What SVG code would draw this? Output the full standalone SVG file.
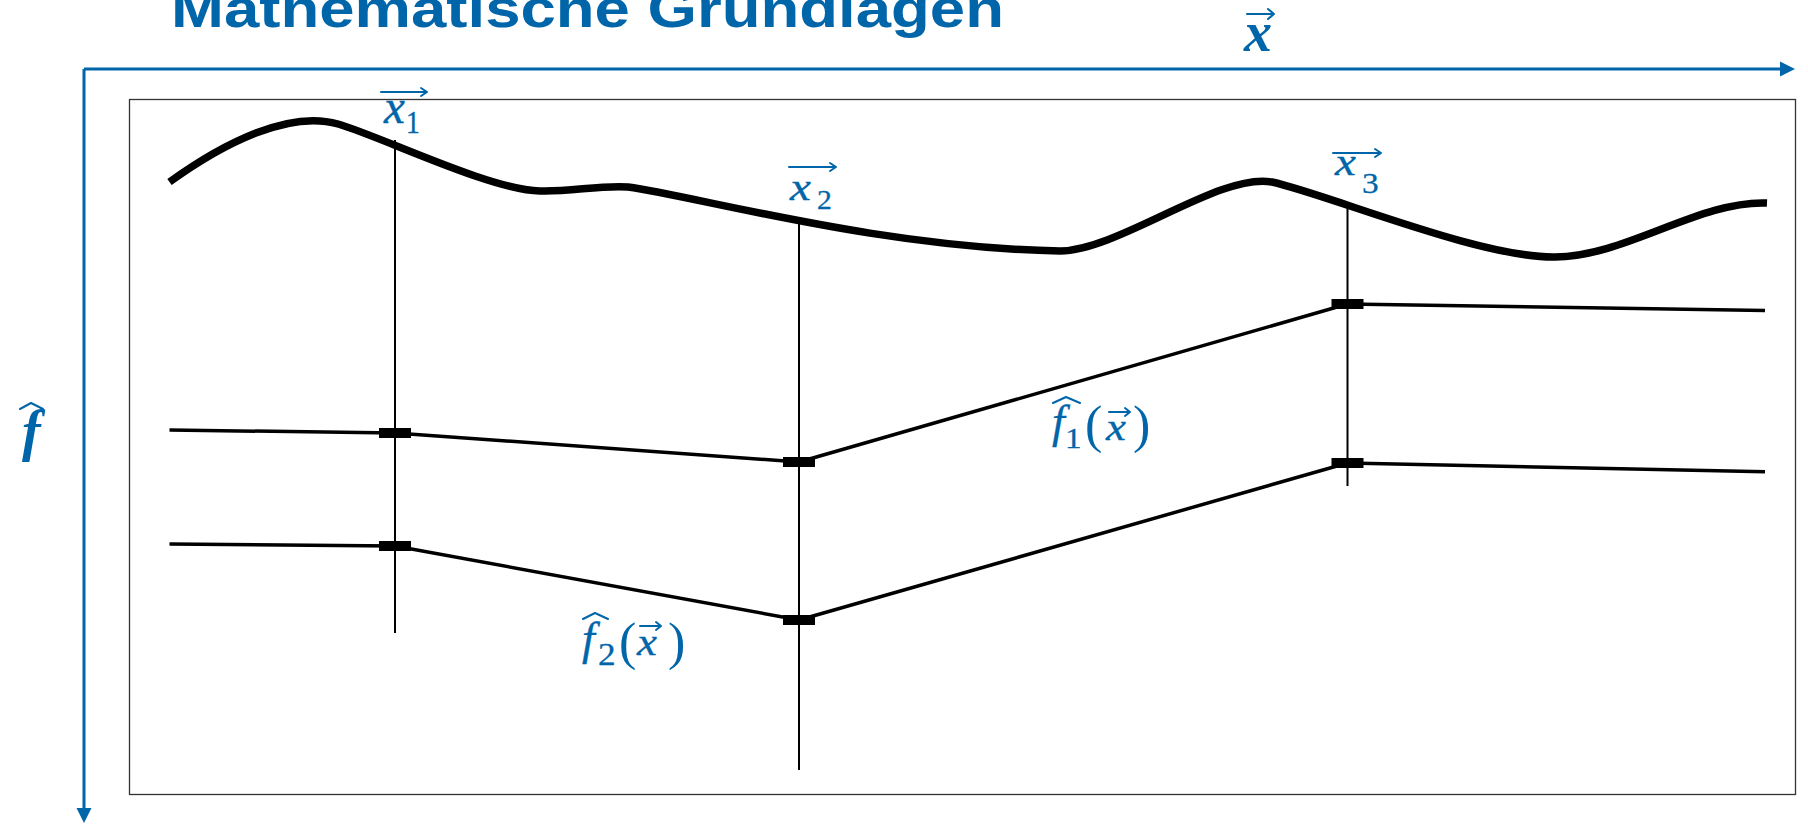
<svg xmlns="http://www.w3.org/2000/svg" width="1808" height="824" viewBox="0 0 1808 824">
<style>
.blue{fill:#0065a9}
.ax{stroke:#0065a9;stroke-width:3;fill:none}
.thin{stroke:#000;stroke-width:2;fill:none}
.poly{stroke:#000;stroke-width:3.5;fill:none;stroke-linejoin:round}
.mk{fill:#000}
.it{font-family:"Liberation Serif","DejaVu Serif",serif;font-style:italic;fill:#0065a9}
.ix{font-family:"Liberation Serif","DejaVu Serif",serif;font-style:italic;fill:#0065a9;stroke:#0065a9;stroke-width:0.35}
.up{font-family:"Liberation Serif","DejaVu Serif",serif;fill:#0065a9}
.dg{font-family:"Liberation Serif","DejaVu Serif",serif;fill:#0065a9;stroke:#0065a9;stroke-width:0.3}
.deco{stroke:#0065a9;stroke-width:2;fill:none;stroke-linecap:round;stroke-linejoin:round}
</style>
<rect width="1808" height="824" fill="#fff"/>
<g id="title">
<text x="171" y="27" font-family="Liberation Sans, Arial, sans-serif" font-weight="bold" font-size="53" textLength="833" lengthAdjust="spacingAndGlyphs" class="blue">Mathematische Grundlagen</text>
</g>
<g id="frame">
<rect x="129.5" y="99.5" width="1666" height="695" fill="none" stroke="#333" stroke-width="1.3"/>
</g>
<g id="axes">
<line class="ax" x1="84" y1="69" x2="1782" y2="69"/>
<polygon class="blue" points="1780,61.5 1795,69 1780,76.5"/>
<line class="ax" x1="84" y1="69" x2="84" y2="810"/>
<polygon class="blue" points="76.5,808 91.5,808 84,823"/>
<g id="label-x">
<text x="1244" y="51" class="it" font-weight="bold" font-size="56">x</text>
<path class="deco" d="M1247,14 H1274 M1268,9 L1274,14 L1268,19"/>
</g>
<g id="label-f">
<text x="22" y="450" class="it" font-weight="bold" font-size="56">f</text>
<path class="deco" stroke-width="2.5" d="M20,409 L31,403 L43,409"/>
</g>
</g>
<g id="curve">
<path d="M169.5,182 C225,142 290,110 338,124 C380,136 490,190 540,191 C570,192 600,185 628,187 C700,197 880,248 1060,251 C1120,250 1220,172 1272,182 C1330,195 1480,258 1555,257 C1625,257 1700,200 1767,203" fill="none" stroke="#000" stroke-width="7.5"/>
</g>
<g id="connectors">
<line class="thin" x1="395" y1="140" x2="395" y2="633"/>
<line class="thin" x1="799" y1="224" x2="799" y2="770"/>
<line class="thin" x1="1347.5" y1="208" x2="1347.5" y2="486"/>
<polyline class="poly" points="169.5,430 395,433 799,462 1347.5,304 1765,310.5"/>
<polyline class="poly" points="169.5,544 395,546 799,620 1347.5,463 1765,471.7"/>
</g>
<g id="markers">
<rect class="mk" x="379" y="428" width="32" height="10"/>
<rect class="mk" x="379" y="541" width="32" height="10"/>
<rect class="mk" x="783" y="457" width="32" height="10"/>
<rect class="mk" x="783" y="615" width="32" height="10"/>
<rect class="mk" x="1331.5" y="299" width="32" height="10"/>
<rect class="mk" x="1331.5" y="458" width="32" height="10"/>
</g>
<g id="x1">
<text transform="translate(384,123) scale(1.27,1.3)" x="0" y="0" class="ix" font-size="37">x</text>
<text transform="translate(406,133) scale(1.15,1.3)" x="0" y="0" class="dg" font-size="24">1</text>
<path class="deco" d="M381,92 H427 M421,88 L427,92 L421,96"/>
</g>
<g id="x2">
<text transform="translate(790,200) scale(1.27,1)" x="0" y="0" class="ix" font-size="37">x</text>
<text transform="translate(817,209) scale(1.1,1)" x="0" y="0" class="dg" font-size="27">2</text>
<path class="deco" d="M789,167 H836 M830,163 L836,167 L830,171"/>
</g>
<g id="x3">
<text transform="translate(1335,175) scale(1.27,1)" x="0" y="0" class="ix" font-size="37">x</text>
<text transform="translate(1362,193) scale(1.15,1)" x="0" y="0" class="dg" font-size="29">3</text>
<path class="deco" d="M1333,153 H1381 M1375,149 L1381,153 L1375,157"/>
</g>
<g id="f1">
<text x="1052" y="437" class="ix" font-size="46">f</text>
<path class="deco" d="M1053,403 L1066,397 L1080,403"/>
<text transform="translate(1065,448) scale(1.1,1)" x="0" y="0" class="dg" font-size="30">1</text>
<text x="1085" y="442" class="up" font-size="52">(</text>
<text transform="translate(1106,440) scale(1.15,1)" x="0" y="0" class="ix" font-size="39">x</text>
<path class="deco" d="M1109,412 H1130 M1125,408 L1130,412 L1125,416"/>
<text x="1133" y="442" class="up" font-size="52">)</text>
</g>
<g id="f2">
<text x="582" y="654" class="ix" font-size="46">f</text>
<path class="deco" d="M583,619 L595,613 L608,619"/>
<text transform="translate(598,665) scale(1.1,1)" x="0" y="0" class="dg" font-size="32">2</text>
<text x="619" y="659" class="up" font-size="52">(</text>
<text transform="translate(637,655) scale(1.15,1)" x="0" y="0" class="ix" font-size="39">x</text>
<path class="deco" d="M640,626 H661 M656,622 L661,626 L656,630"/>
<text x="668" y="659" class="up" font-size="52">)</text>
</g>
</svg>
